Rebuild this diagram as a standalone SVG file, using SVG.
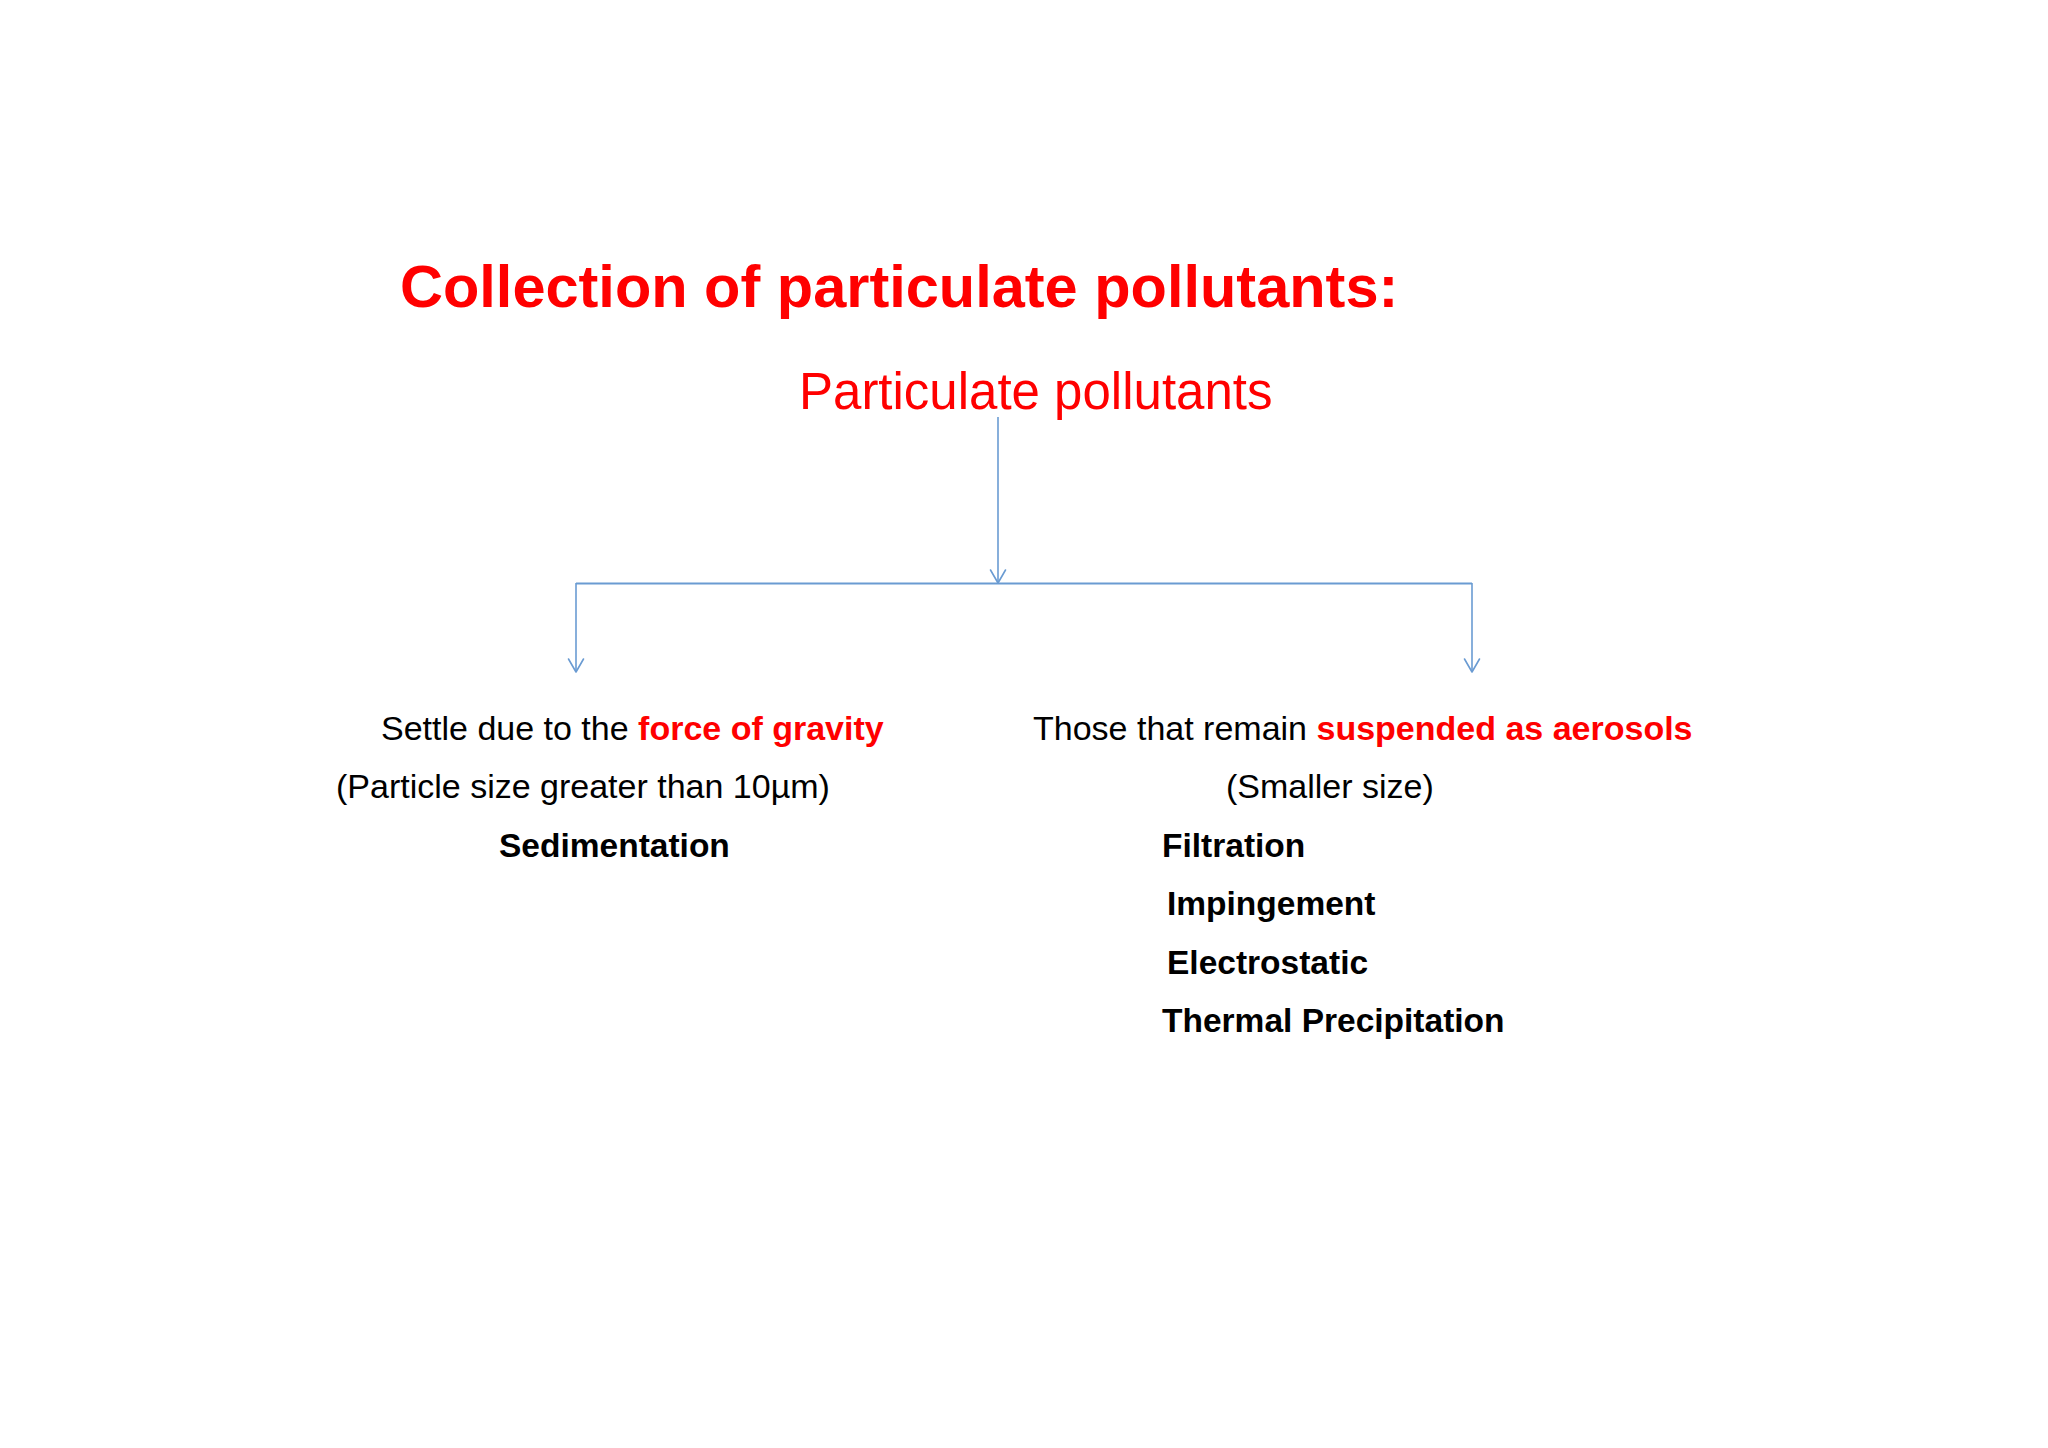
<svg xmlns="http://www.w3.org/2000/svg" width="2048" height="1448" viewBox="0 0 2048 1448">
<style>
.t{font-family:"Liberation Sans",Arial,sans-serif;}
.red{fill:#ff0000;}
.blk{fill:#000000;}
.b{font-weight:bold;}
.body{font-size:34px;}
.bb{font-size:33.5px;font-weight:bold;}
.conn{stroke:#6a9bd2;stroke-width:1.6;fill:none;}
.head{stroke:#6a9bd2;stroke-width:1.6;fill:none;stroke-linecap:round;stroke-linejoin:round;}
</style>
<rect width="2048" height="1448" fill="#ffffff"/>
<g id="title">
<text class="t red b" x="400" y="307" font-size="59.5">Collection of particulate pollutants:</text>
</g>
<g id="root">
<text class="t red" x="799" y="409" font-size="51">Particulate pollutants</text>
</g>
<g id="connectors">
<line class="conn" x1="998" y1="417" x2="998" y2="583"/>
<polyline class="head" points="990.5,570 998,583 1005.5,570"/>
<line class="conn" x1="576" y1="583.5" x2="1472" y2="583.5" style="stroke-width:2"/>
<line class="conn" x1="576" y1="583" x2="576" y2="672"/>
<polyline class="head" points="568.5,659 576,672 583.5,659"/>
<line class="conn" x1="1472" y1="583" x2="1472" y2="672"/>
<polyline class="head" points="1464.5,659 1472,672 1479.5,659"/>
</g>
<g id="left-branch">
<text class="t body blk" x="381" y="740">Settle due to the <tspan class="red b">force of gravity</tspan></text>
<text class="t body blk" x="336" y="798">(Particle size greater than 10µm)</text>
<text class="t bb blk" x="499" y="857">Sedimentation</text>
</g>
<g id="right-branch">
<text class="t body blk" x="1033" y="740">Those that remain <tspan class="red b">suspended as aerosols</tspan></text>
<text class="t body blk" x="1226" y="798">(Smaller size)</text>
<text class="t bb blk" x="1162" y="857">Filtration</text>
<text class="t bb blk" x="1167" y="915">Impingement</text>
<text class="t bb blk" x="1167" y="974">Electrostatic</text>
<text class="t bb blk" x="1162" y="1032">Thermal Precipitation</text>
</g>
</svg>
